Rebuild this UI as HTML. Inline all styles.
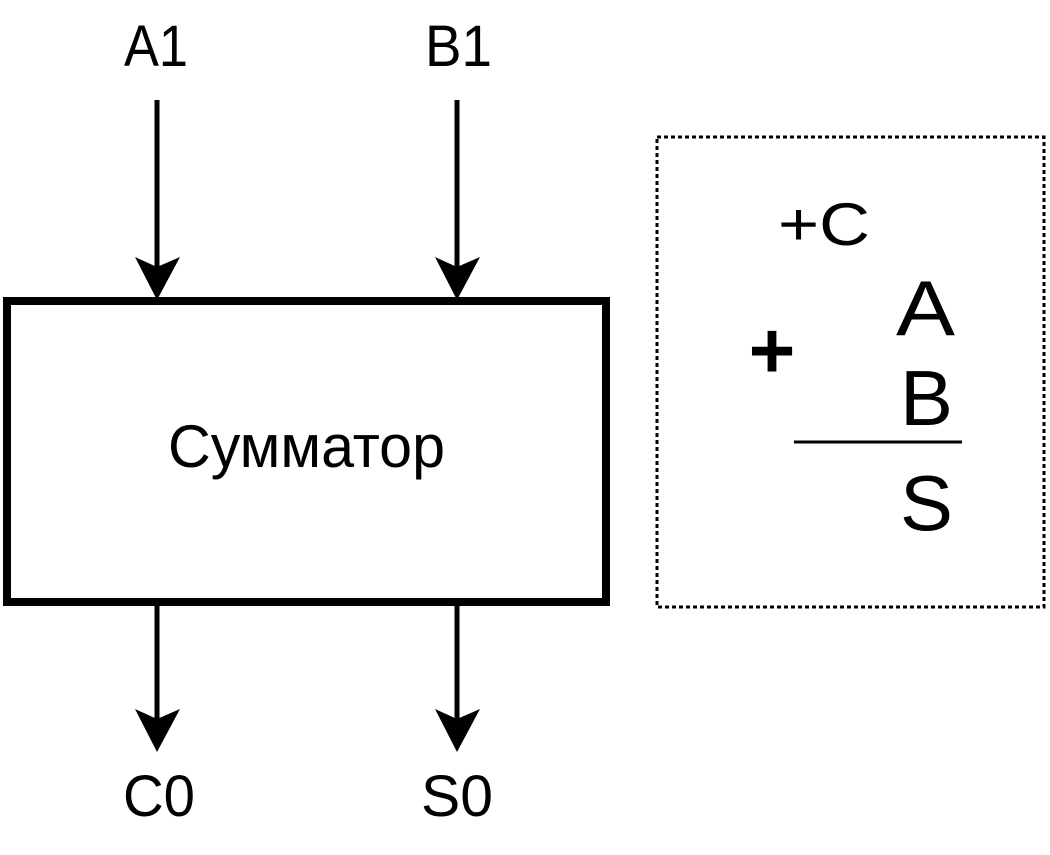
<!DOCTYPE html>
<html><head><style>body{margin:0;background:#fff}svg{display:block}</style></head><body>
<svg width="1050" height="855" xmlns="http://www.w3.org/2000/svg" font-family="Liberation Sans, sans-serif">
<rect x="7" y="301" width="599" height="301" fill="#fff" stroke="#000" stroke-width="8"/>
<g stroke="#000" stroke-width="5">
<line x1="157" y1="100" x2="157" y2="270"/>
<line x1="457" y1="100" x2="457" y2="270"/>
<line x1="157" y1="606" x2="157" y2="720"/>
<line x1="457" y1="606" x2="457" y2="720"/>
</g>
<g fill="#000">
<path d="M157 300 L135 257 L157 267 L180 257 Z"/>
<path d="M457 300 L435 257 L457 267 L480 257 Z"/>
<path d="M157 752 L135 709 L157 719 L180 709 Z"/>
<path d="M457 752 L435 709 L457 719 L480 709 Z"/>
</g>
<g font-size="58">
<text x="124" y="66" textLength="64" lengthAdjust="spacingAndGlyphs">A1</text>
<text x="425" y="66" textLength="67" lengthAdjust="spacingAndGlyphs">B1</text>
<text x="123" y="816" textLength="72" lengthAdjust="spacingAndGlyphs">C0</text>
<text x="421" y="816" textLength="72" lengthAdjust="spacingAndGlyphs">S0</text>
</g>
<text x="168" y="467" font-size="60" textLength="277" lengthAdjust="spacingAndGlyphs">Сумматор</text>
<rect x="657" y="137" width="387" height="470" fill="none" stroke="#000" stroke-width="3" stroke-dasharray="4 3"/>
<text x="778" y="245" font-size="60" textLength="92" lengthAdjust="spacingAndGlyphs">+C</text>
<text x="772" y="378" font-size="80" font-weight="bold" text-anchor="middle">+</text>
<text x="896" y="335" font-size="78" textLength="59" lengthAdjust="spacingAndGlyphs">A</text>
<text x="900" y="425" font-size="78" textLength="53" lengthAdjust="spacingAndGlyphs">B</text>
<line x1="794" y1="442" x2="962" y2="442" stroke="#000" stroke-width="3"/>
<text x="900" y="530" font-size="78" textLength="53" lengthAdjust="spacingAndGlyphs">S</text>
</svg>
</body></html>
